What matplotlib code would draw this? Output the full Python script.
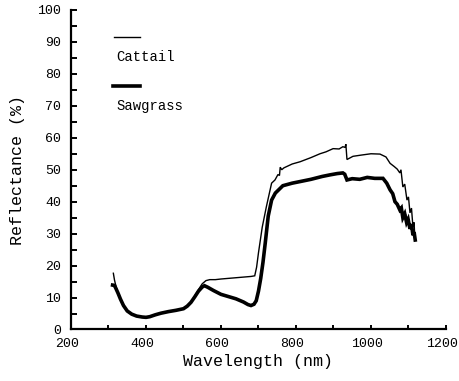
import matplotlib
matplotlib.use("Agg")
import matplotlib.pyplot as plt
import matplotlib.transforms as mtransforms
from matplotlib.ticker import MultipleLocator

# Reflectance spectra (wavelength in nm, reflectance in %)
cattail_wl = [313, 316, 320, 325, 332, 340, 350, 362, 375, 390, 400, 410, 425, 440,
              460, 480, 500, 510, 520, 530, 540, 550, 560, 570, 585, 600, 620, 640,
              660, 680, 690, 695, 700, 710, 721, 735, 744, 752, 756, 758, 762, 768,
              790, 811, 840, 864, 880, 899, 915, 925, 931, 933, 936, 952, 975, 1000,
              1024, 1040, 1051, 1062, 1070, 1077, 1080, 1085, 1090, 1096, 1100, 1104,
              1108, 1112, 1115, 1117]
cattail_refl = [17.6, 15.5, 13.5, 11.5, 9.5, 7.5, 5.8, 4.8, 4.2, 3.9, 3.8, 4.0, 4.6, 5.1,
                5.6, 6.0, 6.5, 7.3, 8.5, 10.5, 12.5, 14.3, 15.3, 15.6, 15.6, 15.8, 16.0,
                16.2, 16.4, 16.6, 16.8, 19.5, 24.0, 32.0, 38.4, 45.8, 46.8, 48.5, 48.2,
                50.8, 50.0, 50.6, 51.8, 52.5, 53.8, 55.0, 55.6, 56.6, 56.5, 57.2, 57.0,
                58.0, 53.2, 54.2, 54.6, 55.0, 54.9, 54.0, 52.0, 51.0, 50.2, 49.0, 50.0,
                44.6, 45.5, 40.5, 41.5, 36.5, 38.0, 32.0, 33.5, 28.5]

sawgrass_wl = [311, 316, 320, 325, 332, 340, 350, 362, 375, 390, 400, 410, 425, 440,
               460, 480, 500, 510, 520, 530, 540, 550, 556, 565, 580, 600, 620, 640,
               660, 672, 680, 688, 694, 700, 706, 712, 718, 726, 735, 745, 765, 790,
               811, 840, 870, 891, 910, 925, 930, 936, 950, 970, 990, 1010, 1032, 1042,
               1051, 1058, 1064, 1070, 1077, 1081, 1085, 1090, 1095, 1099, 1104, 1108,
               1112, 1115, 1118]
sawgrass_refl = [13.9, 13.8, 12.8, 11.5, 9.5, 7.5, 5.8, 4.8, 4.2, 3.9, 3.8, 4.0, 4.6, 5.1,
                 5.6, 6.0, 6.5, 7.3, 8.5, 10.2, 12.0, 13.3, 13.7, 13.2, 12.2, 11.0, 10.3,
                 9.6, 8.6, 7.8, 7.5, 7.9, 9.0, 12.0, 16.0, 21.0, 27.0, 35.5, 40.5, 42.7,
                 45.0, 45.8, 46.3, 47.0, 47.9, 48.4, 48.8, 49.0, 48.6, 46.8, 47.2, 47.0,
                 47.6, 47.3, 47.3, 45.8, 43.7, 42.5, 40.0, 39.2, 37.4, 38.0, 35.0, 36.2,
                 33.5, 34.5, 31.5, 33.0, 29.5, 30.5, 28.0]

series_names = ["Cattail", "Sawgrass"]

FONT = ["Liberation Mono", "DejaVu Sans Mono"]
plt.rcParams["font.family"] = FONT

fig = plt.figure(figsize=(4.6, 3.81), dpi=100)
ax = fig.add_axes([0.1543, 0.1352, 0.8152, 0.8386])

ax.plot(cattail_wl, cattail_refl, color="black", lw=1.0, solid_joinstyle="miter")
ax.plot(sawgrass_wl, sawgrass_refl, color="black", lw=2.6, solid_joinstyle="miter")

ax.set_xlim(200, 1200)
ax.set_ylim(0, 100)
ax.xaxis.set_major_locator(MultipleLocator(200))
ax.xaxis.set_minor_locator(MultipleLocator(100))
ax.yaxis.set_major_locator(MultipleLocator(10))
ax.yaxis.set_minor_locator(MultipleLocator(5))

for side in ("top", "right"):
    ax.spines[side].set_visible(False)
for side in ("left", "bottom"):
    ax.spines[side].set_linewidth(1.6)

ax.tick_params(axis="y", which="both", direction="in", length=4, width=1.4,
               labelsize=9.5, pad=7)
ax.tick_params(axis="x", which="both", direction="in", length=3, width=1.4,
               labelsize=9.5, pad=6)

# nudge the wavelength labels slightly left of their ticks
shift = mtransforms.ScaledTranslation(-4 / 100, 0, fig.dpi_scale_trans)
for lbl in ax.get_xticklabels():
    lbl.set_transform(lbl.get_transform() + shift)

ax.set_xlabel("Wavelength (nm)", fontsize=12, labelpad=3)
ax.set_ylabel("Reflectance (%)", fontsize=12, labelpad=9)

# Legend keys: short line sample with the label beneath it
ax.plot([0.115, 0.184], [0.917, 0.917], transform=ax.transAxes,
        color="black", lw=1.0, clip_on=False)
ax.text(0.12, 0.853, series_names[0], transform=ax.transAxes,
        fontsize=10, va="center", ha="left")
ax.plot([0.112, 0.184], [0.763, 0.763], transform=ax.transAxes,
        color="black", lw=2.6, clip_on=False)
ax.text(0.12, 0.700, series_names[1], transform=ax.transAxes,
        fontsize=10, va="center", ha="left")

fig.savefig("out.png", dpi=100)
